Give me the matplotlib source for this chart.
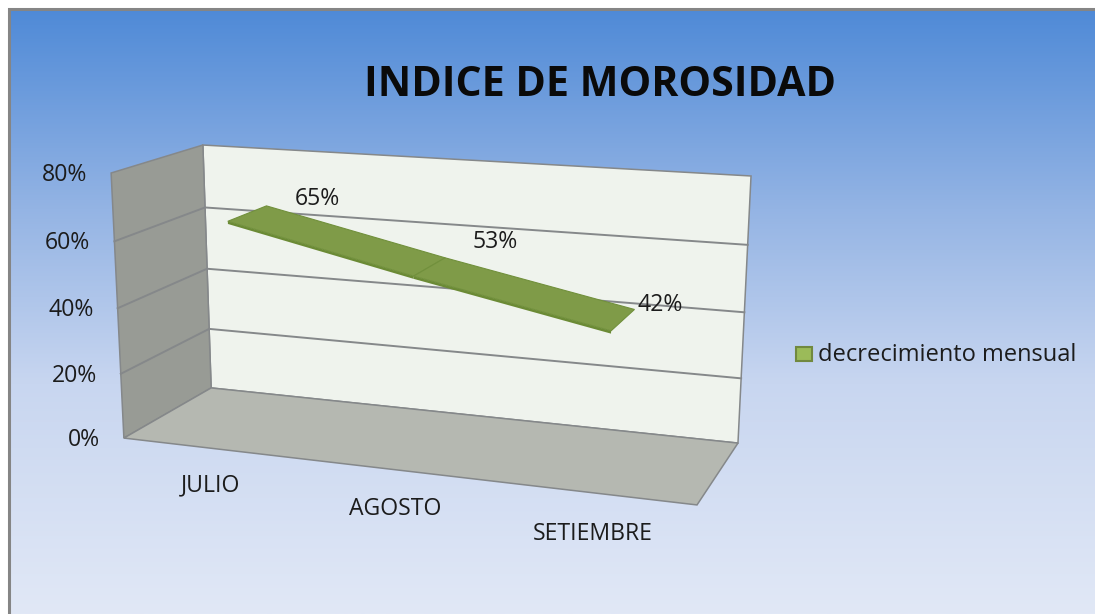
#!/usr/bin/env python3
import matplotlib
matplotlib.use("Agg")
import matplotlib.pyplot as plt
from matplotlib.colors import LinearSegmentedColormap
from matplotlib.patches import Polygon, Rectangle
import numpy as np

TITLE = "INDICE DE MOROSIDAD"
CATEGORIES = ["JULIO", "AGOSTO", "SETIEMBRE"]
VALUES = [0.65, 0.53, 0.42]
VALUE_LABELS = ["65%", "53%", "42%"]
TICKS = [0.0, 0.2, 0.4, 0.6, 0.8]
TICK_LABELS = ["0%", "20%", "40%", "60%", "80%"]
SERIES_NAME = "decrecimiento mensual"

W, H = 1095, 614
Y_MAX = 0.8
# box corners (x, value, depth) -> pixel, used to fit the 3d view
BOX_CORNERS = [
    ((0, 0, 0), (124, 438)),
    ((3, 0, 0), (697, 505)),
    ((0, 0, 1), (211, 388)),
    ((3, 0, 1), (738, 443)),
    ((0, Y_MAX, 0), (111, 173)),
    ((0, Y_MAX, 1), (203, 145)),
    ((3, Y_MAX, 1), (751, 176)),
]
RIBBON_DEPTH = (0.27, 0.73)
RIBBON_THICK = 0.008

plt.rcParams["font.family"] = ["Open Sans", "DejaVu Sans"]
TEXT_COLOR = "#1c1c1c"
GRID_COLOR = "#85888a"


def fit_camera(corners):
    rows = []
    for (x, y, z), (u, v) in corners:
        rows.append([x, y, z, 1, 0, 0, 0, 0, -u * x, -u * y, -u * z, -u])
        rows.append([0, 0, 0, 0, x, y, z, 1, -v * x, -v * y, -v * z, -v])
    return np.linalg.svd(np.array(rows, dtype=float))[2][-1].reshape(3, 4)


CAMERA = fit_camera(BOX_CORNERS)


def project(x, y, z):
    p = CAMERA @ np.array([x, y, z, 1.0])
    return p[0] / p[2], p[1] / p[2]


def face(ax, points, **kwargs):
    ax.add_patch(Polygon([project(*p) for p in points], closed=True, **kwargs))


def main():
    fig = plt.figure(figsize=(W / 100, H / 100), dpi=100, facecolor="white")
    ax = fig.add_axes([0, 0, 1, 1])
    ax.set_xlim(0, W)
    ax.set_ylim(H, 0)
    ax.axis("off")

    # chart area background
    cmap = LinearSegmentedColormap.from_list(
        "bg",
        [(0.0, "#4f8ad7"), (0.33, "#94b4e4"), (0.62, "#c8d6f0"), (1.0, "#e1e8f6")],
    )
    grad = np.linspace(0, 1, 256).reshape(-1, 1)
    ax.imshow(grad, cmap=cmap, extent=(9, W, H, 9), aspect="auto", zorder=0)
    ax.set_xlim(0, W)
    ax.set_ylim(H, 0)
    ax.plot([9, 9, W], [H, 9, 9], color="#858585", lw=2.2, zorder=1, solid_joinstyle="miter")

    # walls and floor
    edge = dict(edgecolor=GRID_COLOR, lw=1.1, zorder=2)
    face(ax, [(0, 0, 1), (3, 0, 1), (3, Y_MAX, 1), (0, Y_MAX, 1)], facecolor="#eff3ed", **edge)
    face(ax, [(0, 0, 0), (0, 0, 1), (0, Y_MAX, 1), (0, Y_MAX, 0)], facecolor="#989b95", **edge)
    face(ax, [(0, 0, 0), (3, 0, 0), (3, 0, 1), (0, 0, 1)], facecolor="#b5b8b1", **edge)

    for t in TICKS[1:-1]:
        pts = [project(0, t, 0), project(0, t, 1), project(3, t, 1)]
        ax.plot(*zip(*pts), color=GRID_COLOR, lw=1.4, zorder=3)

    # value axis labels
    for t, lab in zip(TICKS, TICK_LABELS):
        px, py = project(0, t, 0)
        ax.text(px - 24, py + 2, lab, ha="right", va="center", fontsize=16.6, color=TEXT_COLOR, zorder=6)

    # category labels
    for i, lab in enumerate(CATEGORIES):
        px, py = project(i + 0.5, 0, 0)
        ax.text(px, py + 37 + i * 2, lab, ha="center", va="center", fontsize=16.6, color=TEXT_COLOR, zorder=6)

    # line ribbon
    z0, z1 = RIBBON_DEPTH
    for i in range(len(VALUES) - 1):
        x0, x1 = i + 0.5, i + 1.5
        v0, v1 = VALUES[i], VALUES[i + 1]
        th = RIBBON_THICK
        face(ax, [(x0, v0 - th, z0), (x1, v1 - th, z0), (x1, v1, z0), (x0, v0, z0)],
             facecolor="#6b8a35", edgecolor="none", zorder=4)
        face(ax, [(x0, v0, z0), (x1, v1, z0), (x1, v1, z1), (x0, v0, z1)],
             facecolor="#7f9b48", edgecolor="#71903c", lw=0.8, zorder=5)

    # data labels
    offsets = [(51, -7), (50, -16), (26, -4)]
    for i, lab in enumerate(VALUE_LABELS):
        px, py = project(i + 0.5, VALUES[i], z1)
        ax.text(px + offsets[i][0], py + offsets[i][1], lab, ha="center", va="center",
                fontsize=16.6, color=TEXT_COLOR, zorder=6)

    # title
    ax.text(600, 85, TITLE, ha="center", va="center", fontsize=29.6, fontweight="bold",
            color="#0a0a0a", zorder=6)

    # legend
    ax.add_patch(Rectangle((796, 347), 16, 14, facecolor="#9bbb59", edgecolor="#71893f", lw=1.5, zorder=6))
    ax.text(818, 355, SERIES_NAME, ha="left", va="center", fontsize=17, color=TEXT_COLOR, zorder=6)

    fig.savefig("out.png", dpi=100)
    plt.close(fig)


if __name__ == "__main__":
    main()
